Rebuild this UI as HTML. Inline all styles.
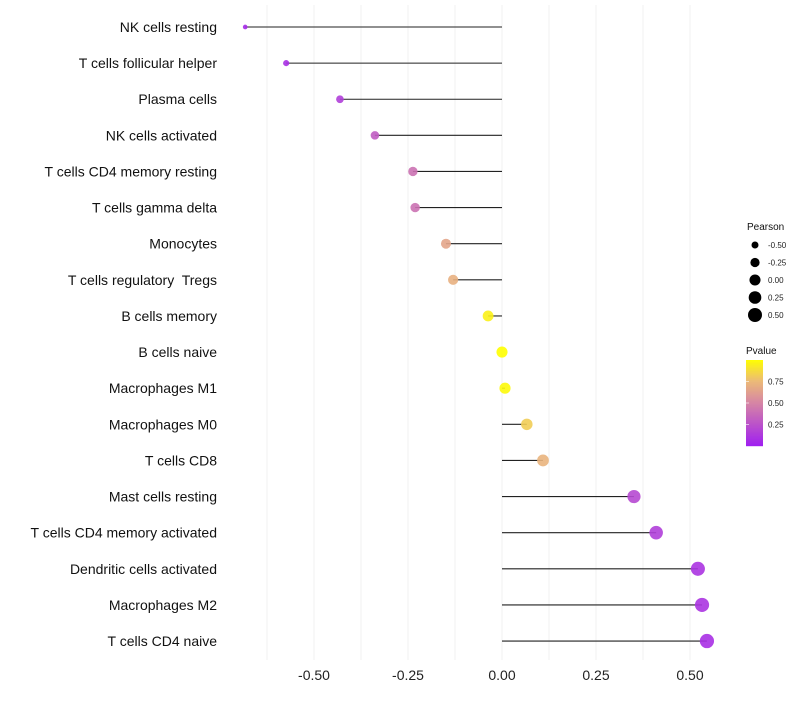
<!DOCTYPE html>
<html><head><meta charset="utf-8"><style>
body{margin:0;background:#fff;font-family:"Liberation Sans",sans-serif}
text{white-space:pre}
</style></head><body>
<svg id="chart" width="800" height="700" xmlns="http://www.w3.org/2000/svg" font-family="Liberation Sans, sans-serif">
<rect width="800" height="700" fill="#fff"/>
<g id="grid"></g><g id="marks"></g><g id="labels"></g><g id="legend"></g>
</svg>
<script>
const categories=["NK cells resting","T cells follicular helper","Plasma cells","NK cells activated","T cells CD4 memory resting","T cells gamma delta","Monocytes","T cells regulatory  Tregs","B cells memory","B cells naive","Macrophages M1","Macrophages M0","T cells CD8","Mast cells resting","T cells CD4 memory activated","Dendritic cells activated","Macrophages M2","T cells CD4 naive"];
const pearson=[-0.683,-0.574,-0.431,-0.338,-0.237,-0.231,-0.149,-0.130,-0.037,0.0,0.008,0.066,0.109,0.351,0.410,0.521,0.532,0.545];
const pvalue=[0.05,0.08,0.15,0.3,0.4,0.4,0.65,0.7,0.95,1.0,0.98,0.82,0.72,0.2,0.15,0.1,0.1,0.08];
const xTicks=[-0.5,-0.25,0,0.25,0.5];
const xTickLabels=["-0.50","-0.25","0.00","0.25","0.50"];
const sizeLegend=[-0.5,-0.25,0,0.25,0.5];
const sizeLegendLabels=["-0.50","-0.25","0.00","0.25","0.50"];
const pTicks=[0.25,0.5,0.75];
const pTickLabels=["0.25","0.50","0.75"];

const NS="http://www.w3.org/2000/svg";
const x=v=>502+v*376;
const y=i=>27+i*36.12;
const r=v=>Math.sqrt(Math.max(2.3,30.6+36.75*v));
function col(p){
  const stops=[[0,[160,32,240]],[0.5,[214,134,164]],[0.75,[236,186,120]],[1,[255,255,0]]];
  for(let k=1;k<stops.length;k++){if(p<=stops[k][0]){const a=stops[k-1],b=stops[k];const t=(p-a[0])/(b[0]-a[0]);
    return `rgb(${a[1].map((c,j)=>Math.round(c+(b[1][j]-c)*t)).join(',')})`;}}
  return 'rgb(255,255,0)';
}
function mk(tag,attrs,parent,text){const e=document.createElementNS(NS,tag);for(const k in attrs)e.setAttribute(k,attrs[k]);if(text!==undefined)e.textContent=text;document.getElementById(parent).appendChild(e);return e;}
for(let v=-0.625;v<=0.6;v+=0.125){const g=mk('line',{x1:x(v),x2:x(v),y1:5,y2:660,stroke:'#f1f1f1','stroke-width':1},'grid');

}
xTicks.forEach((t,i)=>{const e=mk('text',{x:x(t),y:680,'text-anchor':'middle','font-size':14,fill:'#222'},'labels',xTickLabels[i]);

});
categories.forEach((c,i)=>{
  const t=mk('text',{x:217,y:y(i)+5,'text-anchor':'end','font-size':14,fill:'#111'},'labels',c);
  
  
  const l=mk('line',{x1:x(0),x2:x(pearson[i]),y1:y(i),y2:y(i),stroke:'#222','stroke-width':1.1},'marks');
  
  
  const p=mk('circle',{cx:x(pearson[i]),cy:y(i),r:r(pearson[i]),fill:col(pvalue[i]),'fill-opacity':0.9},'marks');
  
  
});
const st=mk('text',{x:747,y:230,'font-size':10,fill:'#111'},'legend','Pearson');


sizeLegend.forEach((v,i)=>{const cy=245+i*17.5;
  const c=mk('circle',{cx:755,cy:cy,r:r(v),fill:'#000'},'legend');
  
  
  const t=mk('text',{x:768,y:cy+3,'font-size':8,fill:'#222'},'legend',sizeLegendLabels[i]);
  
  });
const pt=mk('text',{x:746,y:354,'font-size':10,fill:'#111'},'legend','Pvalue');


for(let k=0;k<86;k++){const e=mk('rect',{x:746,y:446-k-1,width:17,height:1.2,fill:col(k/86)},'legend');

}
pTicks.forEach((v,i)=>{const yy=446-v*86;
  const t=mk('text',{x:768,y:yy+3,'font-size':8,fill:'#222'},'legend',pTickLabels[i]);
  
  
  const l=mk('line',{x1:746,x2:749,y1:yy,y2:yy,stroke:'#fff','stroke-width':0.6},'legend');
  
  });
</script>
</body></html>
